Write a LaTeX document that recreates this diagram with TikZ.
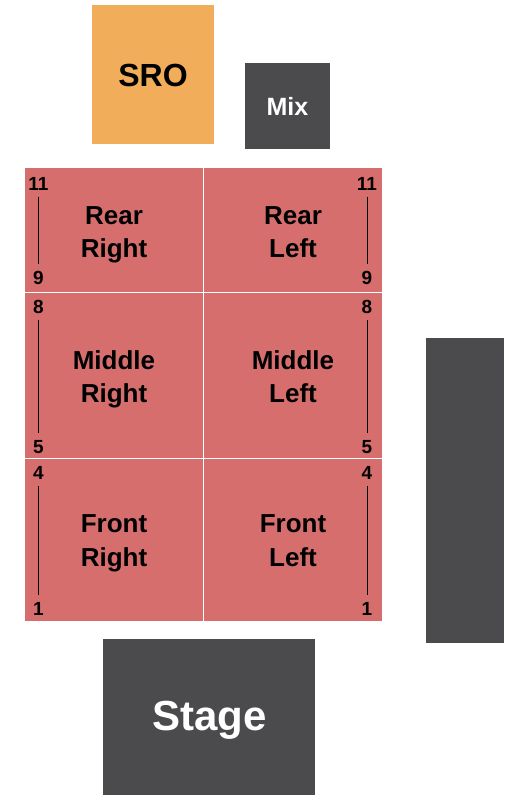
\documentclass[tikz,border=0pt]{standalone}
\usepackage{fontspec}
\setmainfont{Liberation Sans}
\definecolor{seatred}{HTML}{D76E6E}
\definecolor{sroorange}{HTML}{F2AD5A}
\definecolor{darkgrey}{HTML}{4B4A4C}
\begin{document}
\begin{tikzpicture}[x=1pt,y=-1pt,
        section/.style={font=\bfseries\fontsize{26}{33.5}\selectfont, align=center, anchor=base, inner sep=0pt},
        rownum/.style={font=\bfseries\fontsize{19}{19}\selectfont, anchor=base, inner xsep=0pt, inner ysep=6.5pt},
        label/.style={anchor=base, inner sep=0pt}]
            \useasboundingbox (0,0) rectangle (525,800);
            \fill[white] (0,0) rectangle (525,800);
            % standing room and mix
            \draw[fill=sroorange, draw=none] (92,5) rectangle ++(122,139);
            \node[label, font=\bfseries\fontsize{32}{32}\selectfont] (sro) at (153,86) {SRO};
            \draw[fill=darkgrey, draw=none] (245,63) rectangle ++(85,86);
            \node[label, text=white, font=\bfseries\fontsize{25}{25}\selectfont] (mix) at (287.5,115.5) {Mix};
            % seating
            \begin{scope}
                \draw[fill=seatred, draw=none] (25,168) rectangle (382,621);
                \draw[white, line width=1.2pt] (203.5,168) -- (203.5,621);
                \draw[white, line width=1.2pt] (25,292.5) -- (382,292.5);
                \draw[white, line width=1.2pt] (25,458.5) -- (382,458.5);
            \end{scope}
            \node[section] (rearR) at (114,257.5) {Rear\\Right};
            \node[section] (rearL) at (293,257.5) {Rear\\Left};
            \node[section] (midR) at (114,402.5) {Middle\\Right};
            \node[section] (midL) at (293,402.5) {Middle\\Left};
            \node[section] (frontR) at (114,566) {Front\\Right};
            \node[section] (frontL) at (293,566) {Front\\Left};
            % rows
            \node[rownum] (nR11) at (38.5,190) {11};
            \node[rownum] (nR9) at (38.5,284) {9};
            \node[rownum] (nR8) at (38.5,313) {8};
            \node[rownum] (nR5) at (38.5,453) {5};
            \node[rownum] (nR4) at (38.5,479.5) {4};
            \node[rownum] (nR1) at (38.5,615) {1};
            \node[rownum] (nL11) at (367,190) {11};
            \node[rownum] (nL9) at (367,284) {9};
            \node[rownum] (nL8) at (367,313) {8};
            \node[rownum] (nL5) at (367,453) {5};
            \node[rownum] (nL4) at (367,479.5) {4};
            \node[rownum] (nL1) at (367,615) {1};
            \draw (nR11.south) -- (nR9.north);
            \draw (nR8.south) -- (nR5.north);
            \draw (nR4.south) -- (nR1.north);
            \draw (nL11.south) -- (nL9.north);
            \draw (nL8.south) -- (nL5.north);
            \draw (nL4.south) -- (nL1.north);
            % side bar and stage
            \draw[fill=darkgrey, draw=none] (426,338) rectangle (504,643);
            \draw[fill=darkgrey, draw=none] (103,639) rectangle (315,795);
            \node[label, text=white, font=\bfseries\fontsize{42}{42}\selectfont] (stage) at (209.5,730) {Stage};
        \end{tikzpicture}
\end{document}
